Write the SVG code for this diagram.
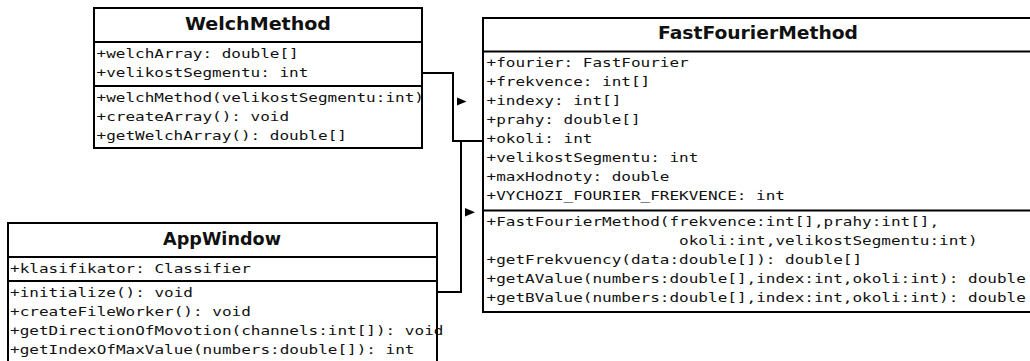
<svg xmlns="http://www.w3.org/2000/svg" width="1030" height="361" viewBox="0 0 1030 361">
  <style>
    .box { fill: #fff; stroke: #000; stroke-width: 2; }
    .sep { stroke: #000; stroke-width: 2; }
    .title { font-family: "DejaVu Sans", "Liberation Sans", sans-serif; font-weight: bold; font-size: 17px; fill: #111; text-anchor: middle; }
    .mem { font-family: "DejaVu Sans Mono", "Liberation Mono", monospace; font-size: 12.5px; fill: #111; }
    .wire { fill: none; stroke: #000; stroke-width: 2; }
    .dir { fill: #000; }
  </style>

  <!-- connectors -->
  <g id="connectors">
    <path class="wire" d="M422 73 H453 V141 H483"/>
    <path class="wire" d="M437 292 H461 V141"/>
    <polygon class="dir" points="457,97.5 457,105.5 466.5,101.5"/>
    <polygon class="dir" points="465,208 465,216.5 475,212.2"/>
  </g>

  <!-- WelchMethod -->
  <g id="WelchMethod">
    <rect class="box" x="94" y="8" width="328" height="140"/>
    <line class="sep" x1="94" y1="42" x2="422" y2="42"/>
    <line class="sep" x1="94" y1="86" x2="422" y2="86"/>
    <text class="title" x="258" y="30" textLength="146" lengthAdjust="spacingAndGlyphs">WelchMethod</text>
    <text class="mem" x="96.5" y="57.5" textLength="202.2" lengthAdjust="spacingAndGlyphs">+welchArray: double[]</text>
    <text class="mem" x="96.5" y="76.5" textLength="211.9" lengthAdjust="spacingAndGlyphs">+velikostSegmentu: int</text>
    <text class="mem" x="96.5" y="101.5" textLength="327.4" lengthAdjust="spacingAndGlyphs">+welchMethod(velikostSegmentu:int)</text>
    <text class="mem" x="96.5" y="120.5" textLength="192.6" lengthAdjust="spacingAndGlyphs">+createArray(): void</text>
    <text class="mem" x="96.5" y="139.5" textLength="250.4" lengthAdjust="spacingAndGlyphs">+getWelchArray(): double[]</text>
  </g>

  <!-- FastFourierMethod -->
  <g id="FastFourierMethod">
    <rect class="box" x="483" y="18" width="551" height="294"/>
    <line class="sep" x1="483" y1="51.5" x2="1034" y2="51.5"/>
    <line class="sep" x1="483" y1="210.5" x2="1034" y2="210.5"/>
    <text class="title" x="758" y="39" textLength="200" lengthAdjust="spacingAndGlyphs">FastFourierMethod</text>
    <text class="mem" x="486.5" y="67" textLength="202.2" lengthAdjust="spacingAndGlyphs">+fourier: FastFourier</text>
    <text class="mem" x="486.5" y="86" textLength="163.7" lengthAdjust="spacingAndGlyphs">+frekvence: int[]</text>
    <text class="mem" x="486.5" y="105" textLength="134.8" lengthAdjust="spacingAndGlyphs">+indexy: int[]</text>
    <text class="mem" x="486.5" y="124" textLength="154.1" lengthAdjust="spacingAndGlyphs">+prahy: double[]</text>
    <text class="mem" x="486.5" y="143" textLength="105.9" lengthAdjust="spacingAndGlyphs">+okoli: int</text>
    <text class="mem" x="486.5" y="162" textLength="211.9" lengthAdjust="spacingAndGlyphs">+velikostSegmentu: int</text>
    <text class="mem" x="486.5" y="181" textLength="183" lengthAdjust="spacingAndGlyphs">+maxHodnoty: double</text>
    <text class="mem" x="486.5" y="200" textLength="298.5" lengthAdjust="spacingAndGlyphs">+VYCHOZI_FOURIER_FREKVENCE: int</text>
    <text class="mem" x="486.5" y="226" textLength="452.6" lengthAdjust="spacingAndGlyphs">+FastFourierMethod(frekvence:int[],prahy:int[],</text>
    <text class="mem" x="679.1" y="245" textLength="298.5" lengthAdjust="spacingAndGlyphs">okoli:int,velikostSegmentu:int)</text>
    <text class="mem" x="486.5" y="264" textLength="375.6" lengthAdjust="spacingAndGlyphs">+getFrekvuency(data:double[]): double[]</text>
    <text class="mem" x="486.5" y="283" textLength="539.3" lengthAdjust="spacingAndGlyphs">+getAValue(numbers:double[],index:int,okoli:int): double</text>
    <text class="mem" x="486.5" y="302" textLength="539.3" lengthAdjust="spacingAndGlyphs">+getBValue(numbers:double[],index:int,okoli:int): double</text>
  </g>

  <!-- AppWindow -->
  <g id="AppWindow">
    <rect class="box" x="8" y="223" width="429" height="142"/>
    <line class="sep" x1="8" y1="257" x2="437" y2="257"/>
    <line class="sep" x1="8" y1="281" x2="437" y2="281"/>
    <text class="title" x="222" y="245" textLength="118" lengthAdjust="spacingAndGlyphs">AppWindow</text>
    <text class="mem" x="10" y="273" textLength="240.8" lengthAdjust="spacingAndGlyphs">+klasifikator: Classifier</text>
    <text class="mem" x="10" y="297" textLength="183" lengthAdjust="spacingAndGlyphs">+initialize(): void</text>
    <text class="mem" x="10" y="316" textLength="240.8" lengthAdjust="spacingAndGlyphs">+createFileWorker(): void</text>
    <text class="mem" x="10" y="335" textLength="433.4" lengthAdjust="spacingAndGlyphs">+getDirectionOfMovotion(channels:int[]): void</text>
    <text class="mem" x="10" y="354" textLength="404.5" lengthAdjust="spacingAndGlyphs">+getIndexOfMaxValue(numbers:double[]): int</text>
    <line class="sep" x1="437" y1="223" x2="437" y2="365"/>
  </g>
</svg>
